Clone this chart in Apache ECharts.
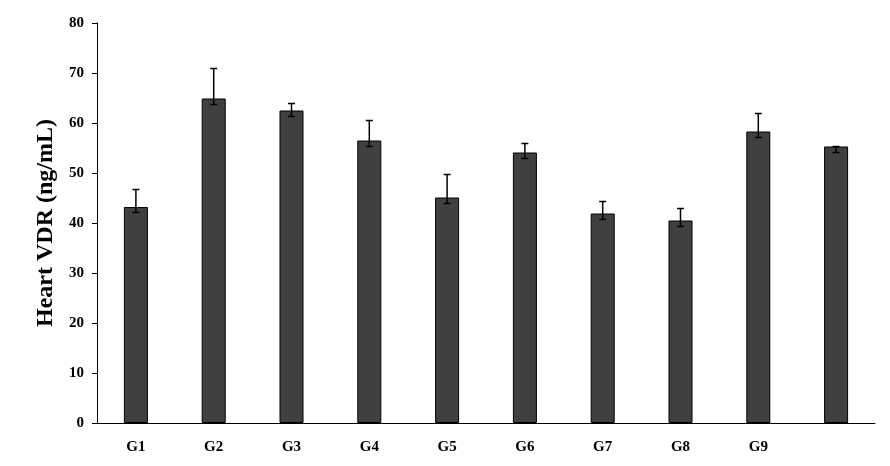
<!DOCTYPE html>
<html>
<head>
<meta charset="utf-8">
<script src="https://cdn.jsdelivr.net/npm/echarts@6/dist/echarts.min.js"></script>
<style>html,body{margin:0;padding:0;background:#fff;}#c{width:890px;height:466px;}</style>
</head>
<body>
<div id="c"></div>
<script>
const categories = ['G1','G2','G3','G4','G5','G6','G7','G8','G9',''];
const values = [43.2, 64.9, 62.5, 56.5, 45.1, 54.1, 41.9, 40.5, 58.3, 55.3];
const errUp = [3.5, 6.0, 1.4, 4.0, 4.6, 1.8, 2.4, 2.4, 3.6, 0];
const errDown = [1.1, 1.2, 1.2, 1.2, 1.2, 1.2, 1.2, 1.2, 1.2, 1.2];
const yTicks = [0, 10, 20, 30, 40, 50, 60, 70, 80];

const chart = echarts.init(document.getElementById('c'), null, {renderer: 'canvas'});
const font = '"Liberation Serif", "Times New Roman", serif';
const errData = values.map((v, i) => [i, v + errUp[i], v - errDown[i]]);

chart.setOption({
  backgroundColor: '#fff',
  animation: false,
  grid: {left: 97, right: 15, top: 23, bottom: 43, containLabel: false},
  xAxis: {
    type: 'category',
    data: categories,
    axisLine: {lineStyle: {color: '#000', width: 1}},
    axisTick: {show: false},
    axisLabel: {color: '#000', fontFamily: font, fontWeight: 'bold', fontSize: 15, margin: 17}
  },
  yAxis: {
    type: 'value',
    min: yTicks[0],
    max: yTicks[yTicks.length - 1],
    interval: 10,
    name: 'Heart VDR (ng/mL)',
    nameLocation: 'middle',
    nameGap: 39,
    nameTextStyle: {color: '#000', fontFamily: font, fontWeight: 'bold', fontSize: 24},
    axisLine: {show: true, lineStyle: {color: '#000', width: 1}},
    axisTick: {show: true, length: 5, lineStyle: {color: '#000'}},
    splitLine: {show: false},
    axisLabel: {color: '#000', fontFamily: font, fontWeight: 'bold', fontSize: 15, margin: 13}
  },
  series: [
    {
      type: 'bar',
      data: values,
      barWidth: 24,
      itemStyle: {color: '#404040', borderColor: '#000', borderWidth: 1}
    },
    {
      type: 'custom',
      data: errData,
      z: 10,
      renderItem: function (params, api) {
        const x = api.value(0);
        const hi = api.coord([x, api.value(1)]);
        const lo = api.coord([x, api.value(2)]);
        const hw = 3.5;
        const style = {stroke: '#000', lineWidth: 1.5};
        return {
          type: 'group',
          children: [
            {type: 'line', shape: {x1: hi[0], y1: hi[1], x2: lo[0], y2: lo[1]}, style: style},
            {type: 'line', shape: {x1: hi[0] - hw, y1: hi[1], x2: hi[0] + hw, y2: hi[1]}, style: style},
            {type: 'line', shape: {x1: lo[0] - hw, y1: lo[1], x2: lo[0] + hw, y2: lo[1]}, style: style}
          ]
        };
      }
    }
  ]
});
</script>
</body>
</html>
